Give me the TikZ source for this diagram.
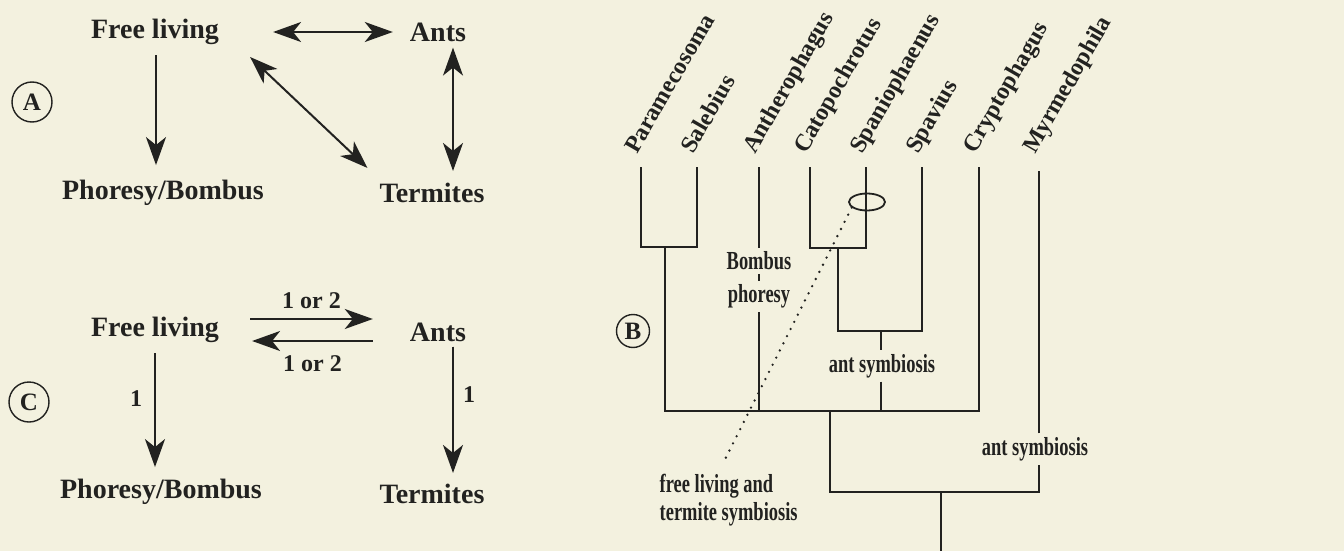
\documentclass[tikz,border=0pt]{standalone}
\usepackage{fontspec}
\setmainfont{Liberation Serif}
\newfontfamily\narrowfont[FakeStretch=0.71]{Liberation Serif}
\usetikzlibrary{arrows.meta,positioning,shapes.geometric,calc}
\definecolor{paper}{RGB}{243,241,223}
\definecolor{ink}{RGB}{34,34,32}
\tikzset{
 lbl/.style={font=\fontsize{28}{32}\selectfont\bfseries,inner sep=0pt,text=ink},
 num/.style={font=\fontsize{24}{28}\selectfont\bfseries,inner sep=2pt,text=ink},
 tag/.style={draw=ink,circle,line width=1.4pt,minimum size=40pt,inner sep=0pt,
             font=\fontsize{25}{28}\selectfont\bfseries,text=ink},
 head/.style={Stealth[length=28pt,width=20pt,inset=8pt]},
 arrow/.style={-{Stealth[length=28pt,width=20pt,inset=8pt]},line width=2pt,draw=ink,fill=ink},
 dbl/.style={{Stealth[length=28pt,width=20pt,inset=8pt]}-{Stealth[length=28pt,width=20pt,inset=8pt]},
             line width=2pt,draw=ink,fill=ink},
 taxon/.style={rotate=60,anchor=base west,inner sep=0pt,
             font=\fontsize{24}{28}\selectfont\bfseries,text=ink},
 note/.style={font=\narrowfont\fontsize{26}{28}\selectfont\bfseries,inner sep=3.5pt,text=ink},
 tree/.style={line width=2.8pt,draw=ink},
 dots/.style={draw=ink,line width=2.6pt,line cap=round,dash pattern=on 0pt off 8pt}
}
\begin{document}
\begin{tikzpicture}[x=1pt,y=-1pt]
\useasboundingbox[fill=paper] (0,0) rectangle (1344,551);

% panel A
\node[tag] (tagA) at (32,102) {A};
\node[lbl] (freeA) at (155,32) {Free living};
\node[lbl] (antsA) at (438,32) {Ants};
\node[lbl] (phorA) at (163,193) {Phoresy/Bombus};
\node[lbl] (termA) at (432,193) {Termites};
\draw[dbl] ($(freeA.east)+(54,0)$) -- ($(antsA.west)+(-17,0)$);
\draw[arrow] ($(freeA.south)+(1,10)$) -- ($(freeA.south |- phorA.north)+(1,-15)$);
\draw[dbl] ($(freeA.east)+(31,25)$) -- ($(termA.north west)+(-12,-15)$);
\draw[dbl] ($(antsA.south)+(15,6)$) -- ($(termA.north)+(21,-12)$);

% panel C
\node[tag] (tagC) at (29,402) {C};
\node[lbl] (freeC) at (155,330) {Free living};
\node[lbl] (antsC) at (438,332) {Ants};
\node[lbl] (phorC) at (161,492) {Phoresy/Bombus};
\node[lbl] (termC) at (432,494) {Termites};
\draw[arrow] ($(freeC.east)+(31,-11)$) -- ($(antsC.west)+(-37,-13)$)
  node[num,midway,above=7pt] {1 or 2};
\draw[arrow] ($(antsC.west)+(-37,9)$) -- ($(freeC.east)+(33,11)$)
  node[num,midway,below=12pt] {1 or 2};
\draw[arrow] ($(freeC.south)+(0,10)$) -- ($(freeC.south |- phorC.north)+(0,-12)$)
  node[num,pos=0.4,left=10pt] {1};
\draw[arrow] ($(antsC.south)+(15,5)$) -- ($(termC.north)+(21,-11)$)
  node[num,pos=0.38,right=7pt] {1};

% panel B
\node[tag,minimum size=33pt] (tagB) at (633,331) {B};
\foreach \tag/\name/\x in {para/Paramecosoma/641,sale/Salebius/697,anth/Antherophagus/759,
  cato/Catopochrotus/810,span/Spaniophaenus/866,spav/Spavius/922,
  cryp/Cryptophagus/979,myrm/Myrmedophila/1039}{
  \node[taxon] (\tag) at (\x-4,155) {\name};
  \coordinate (tip-\tag) at (\x,167);
}
\coordinate (ps) at (665,247);
\coordinate (cs) at (838,248);
\coordinate (css) at (881,331);
\coordinate (core) at (830,411);
\coordinate (all) at (941,492);

\node[note] (bombus) at (759,261) {Bombus};
\node[note] (phoresy) at (759,296.5) {phoresy};
\node[note] (antsym) at (882,366) {ant symbiosis};
\node[note] (antsymM) at (1035,449) {ant symbiosis};
\node[note,align=left,anchor=north west] (freeLab) at (656,470)
  {free living and\\termite symbiosis};

\draw[tree] (tip-para) |- (ps) -| (tip-sale);
\draw[tree] (ps) -- (ps |- core) -| (tip-cryp);
\draw[tree] (tip-anth) -- (tip-anth |- bombus.north);
\draw[tree] (tip-anth |- bombus.south) -- (tip-anth |- phoresy.north);
\draw[tree] (tip-anth |- phoresy.south) -- (tip-anth |- core);
\draw[tree] (tip-cato) |- (cs) -| (tip-span);
\draw[tree] (cs) -- (cs |- css) -| (tip-spav);
\draw[tree] (css) -- (css |- antsym.north);
\draw[tree] (css |- antsym.south) -- (css |- core);
\draw[tree] (core) |- (tip-myrm |- all) -- (tip-myrm |- antsymM.south);
\draw[tree] (tip-myrm |- antsymM.north) -- ($(tip-myrm)+(0,4)$);
\draw[tree] (all) -- ++(0,62);

\node[draw=ink,line width=1.8pt,ellipse,minimum width=36pt,minimum height=17pt,inner sep=0pt]
  (ring) at (867,202) {};
\draw[dots] (ring.200) -- ($(freeLab.north)+(-6,-6)$);
\end{tikzpicture}
\end{document}
